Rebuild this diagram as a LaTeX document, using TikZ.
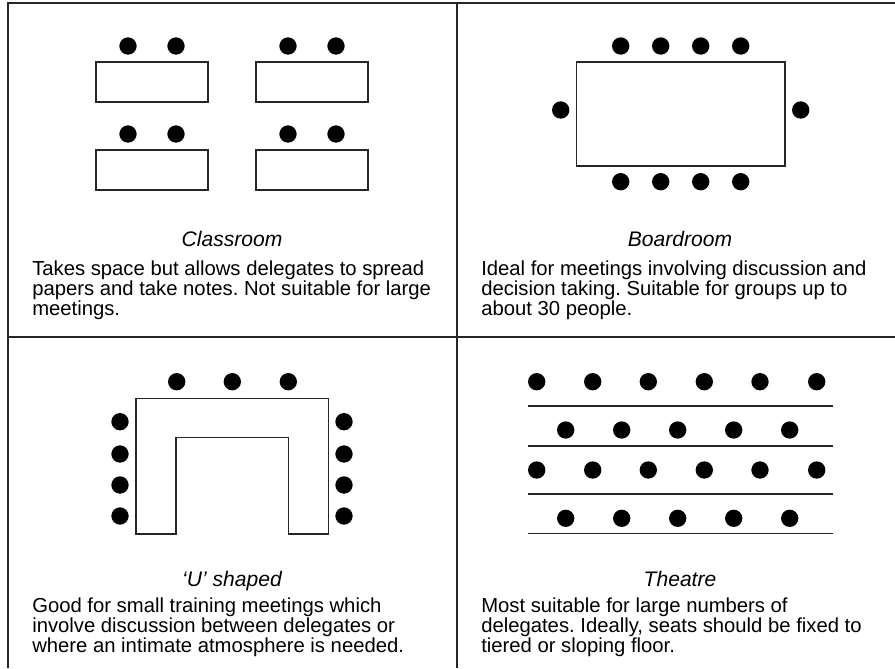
\documentclass[tikz,border=0pt]{standalone}
\usepackage{fontspec}
\setmainfont{Liberation Sans}
\frenchspacing
\begin{document}
\begin{tikzpicture}[x=0.75pt,y=-0.75pt,
  frame/.style={line width=1.1pt,draw=black!85},
  tablebox/.style={line width=0.8pt,draw=black!85},
  seat/.style={circle,fill=black,inner sep=0pt,minimum size=13pt},
  caption/.style={anchor=base,inner sep=0pt,font=\fontsize{15.8}{15.8}\selectfont\itshape},
  desc/.style={anchor=base west,inner sep=0pt,align=left,font=\fontsize{15.2}{15}\selectfont\frenchspacing}]
\useasboundingbox (0,0) rectangle (895,668);
% frame
\draw[frame] (895,3) -- (8,3) -- (8,668);
\draw[frame] (457,3) -- (457,668);
\draw[frame] (8,337) -- (895,337);

% ---------- Classroom ----------
\foreach \x/\y in {96/62,256/62,96/150,256/150}
  \draw[tablebox] (\x,\y) rectangle ++(112,40);
\foreach \x/\y [count=\i] in {128/46,176/46,288/46,336/46,128/134,176/134,288/134,336/134}
  \node[seat] (cs\i) at (\x,\y) {};
\node[caption] (clab) at (232,246) {Classroom};
\node[desc] (ctxt) at (32,315.3) {Takes space but allows delegates to spread\\papers and take notes. Not suitable for large\\meetings.};

% ---------- Boardroom ----------
\draw[tablebox] (576.7,62) rectangle (785,166);
\foreach \x [count=\i] in {620.7,660.7,700.7,740.7}{
  \node[seat] (bt\i) at (\x,46) {};
  \node[seat] (bb\i) at (\x,181.7) {};
}
\node[seat] (bl) at (560.7,110) {};
\node[seat] (br) at (800.7,110) {};
\node[caption] (blab) at (680,246) {Boardroom};
\node[desc] (btxt) at (481,315.3) {Ideal for meetings involving discussion and\\decision taking. Suitable for groups up to\\about 30 people.};

% ---------- U shaped ----------
\draw[tablebox] (136,534) -- (136,398.3) -- (328.3,398.3) -- (328.3,534) -- (288.3,534)
  -- (288.3,437.7) -- (176,437.7) -- (176,534) -- cycle;
\foreach \x [count=\i] in {176.7,232.3,288.3}
  \node[seat] (ut\i) at (\x,381.7) {};
\foreach \y [count=\i] in {421.7,454,485,516}{
  \node[seat] (ul\i) at (120,\y) {};
  \node[seat] (ur\i) at (344,\y) {};
}
\node[caption] (ulab) at (232,586.7) {‘U’ shaped};
\node[desc] (utxt) at (32,652.5) {Good for small training meetings which\\involve discussion between delegates or\\where an intimate atmosphere is needed.};

% ---------- Theatre ----------
\foreach \y in {406,446,494,533.7}
  \draw[tablebox] (528.3,\y) -- (832.7,\y);
\foreach \x [count=\i] in {536.7,592.7,648.3,704.3,760,816.7}{
  \node[seat] (ta\i) at (\x,381.7) {};
  \node[seat] (tc\i) at (\x,470) {};
}
\foreach \x [count=\i] in {565.7,621.7,677.7,733.7,789.7}{
  \node[seat] (tb\i) at (\x,430) {};
  \node[seat] (td\i) at (\x,518.3) {};
}
\node[caption] (tlab) at (680,586.7) {Theatre};
\node[desc] (ttxt) at (481,652.5) {Most suitable for large numbers of\\delegates. Ideally, seats should be fixed to\\tiered or sloping floor.};
\end{tikzpicture}
\end{document}
